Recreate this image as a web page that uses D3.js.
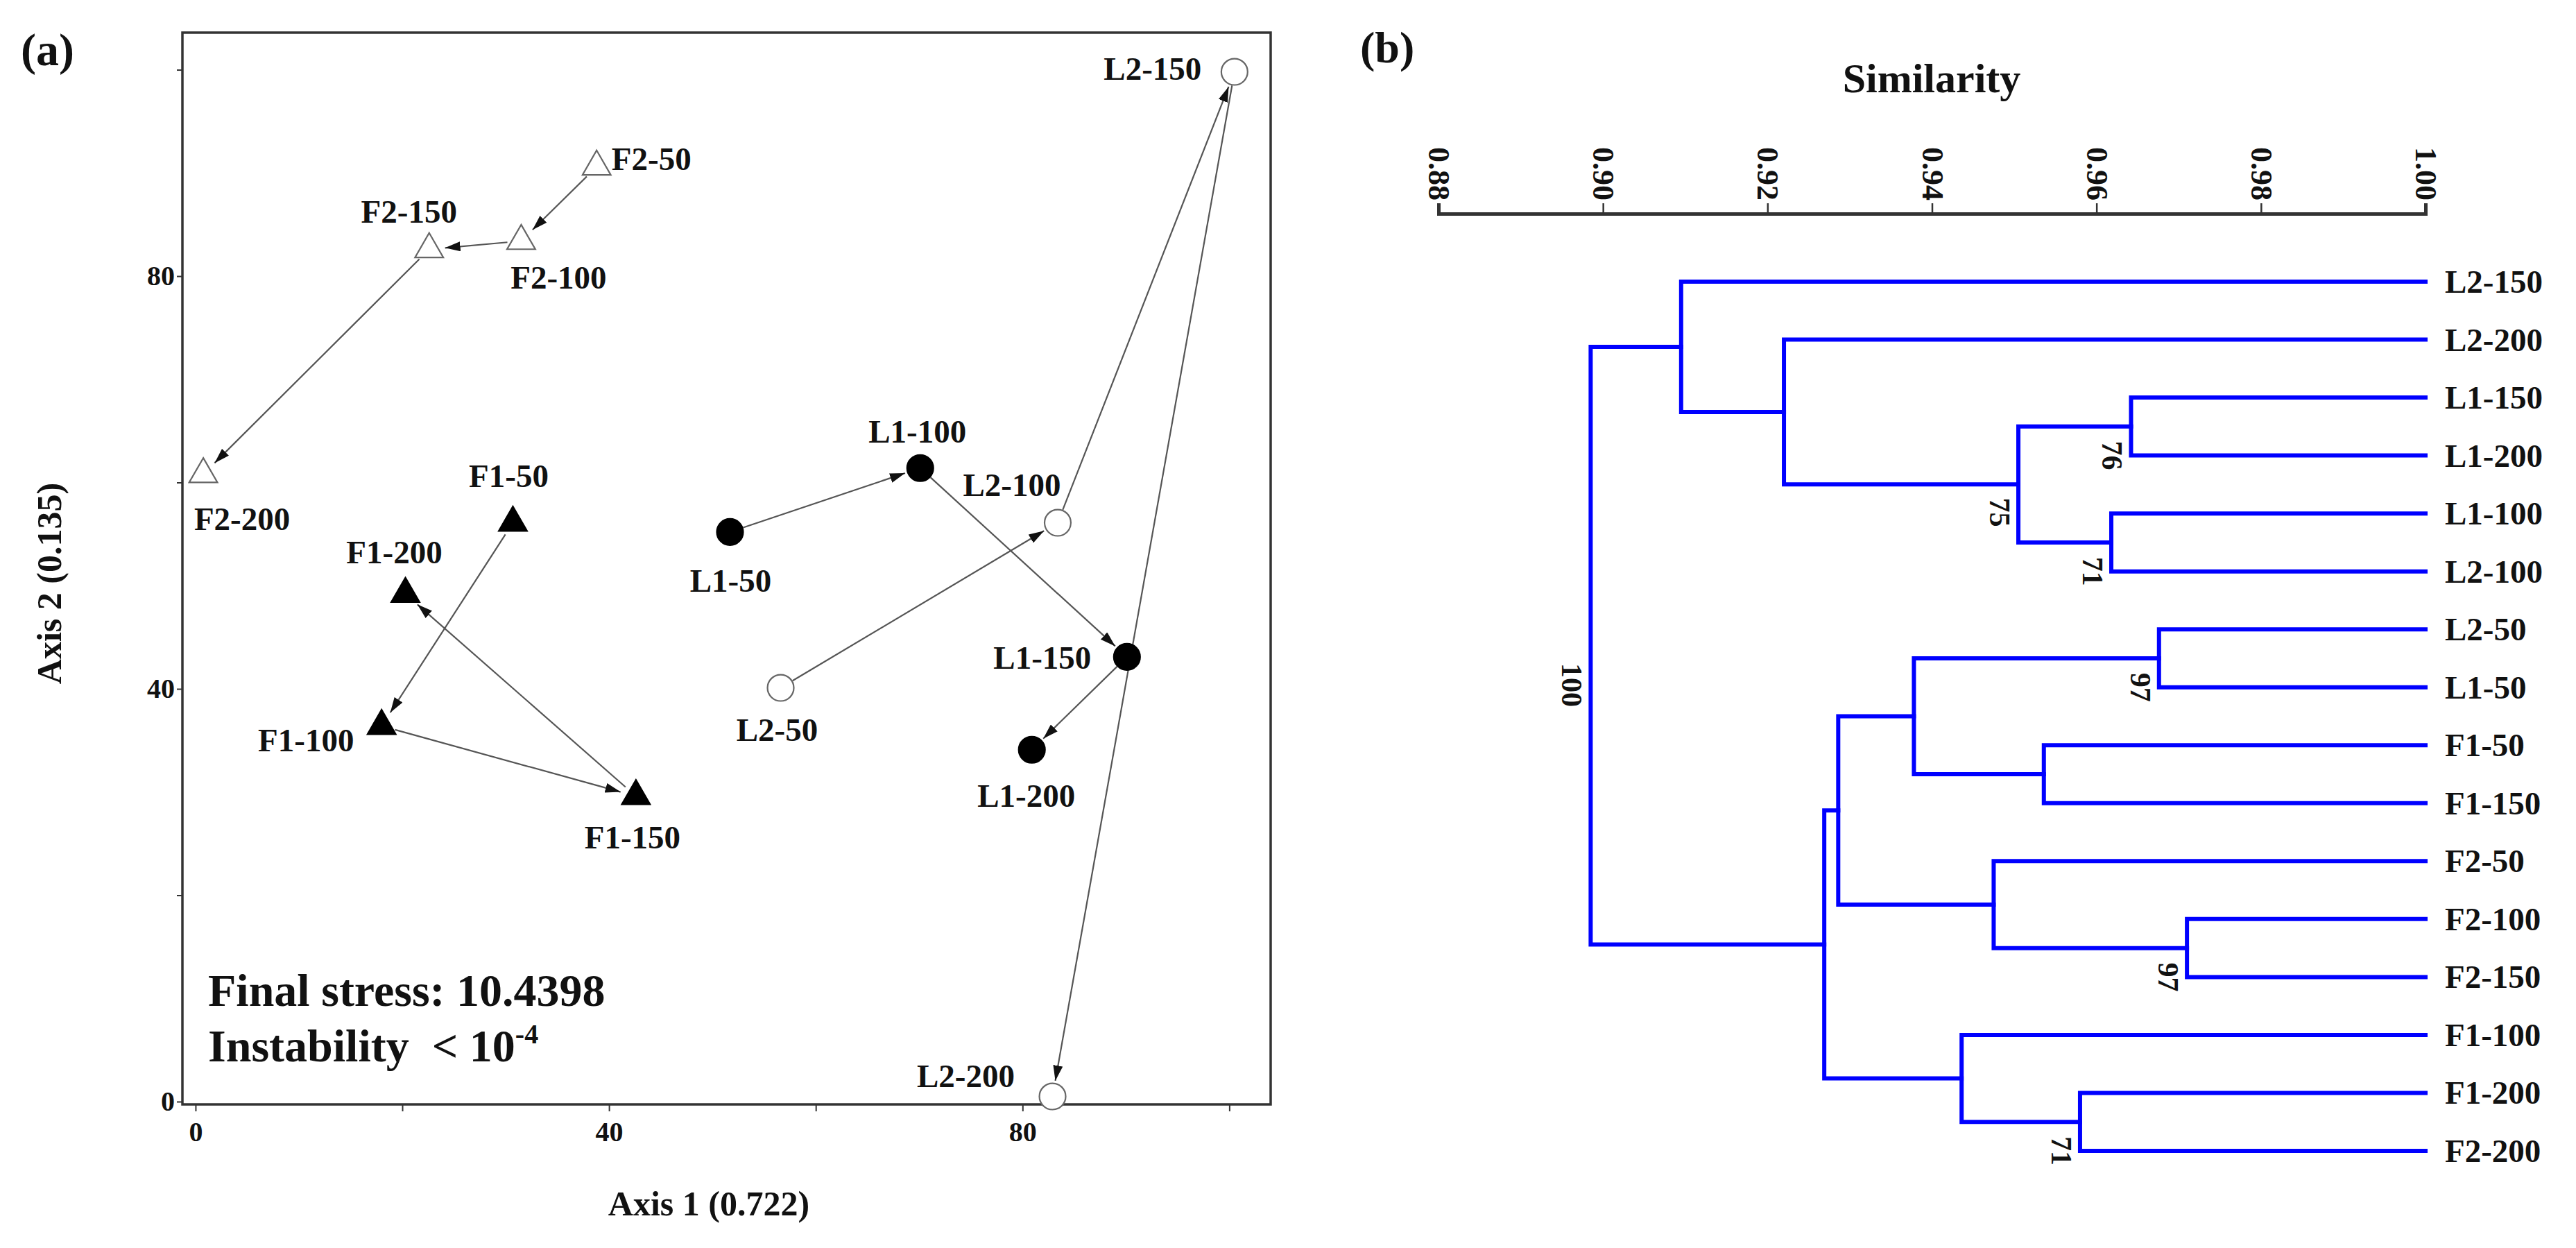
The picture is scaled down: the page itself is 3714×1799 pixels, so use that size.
<!DOCTYPE html>
<html><head><meta charset="utf-8">
<script src="https://cdn.jsdelivr.net/npm/d3@7"></script>
<style>
body{margin:0;background:#fff;}
text{font-family:"Liberation Serif","Times New Roman",serif;font-weight:bold;fill:#111;}
</style>
</head><body>
<svg id="c" width="3714" height="1799"></svg>
<script>
// ================= DATA =================
// (a) NMDS ordination
const sampleNames  = ["F1-50","F1-100","F1-150","F1-200","F2-50","F2-100","F2-150","F2-200","L1-50","L1-100","L1-150","L1-200","L2-50","L2-100","L2-150","L2-200"];
const axis1Scores  = [30.7, 18.0, 42.6, 20.3, 38.8, 31.5, 22.6, 0.75, 51.7, 70.1, 90.1, 80.9, 56.6, 83.4, 100.5, 82.9];
const axis2Scores  = [56.1, 36.4, 29.6, 49.2, 90.6, 83.4, 82.6, 60.8, 55.2, 61.4, 43.1, 34.1, 40.1, 56.1, 99.8, 0.5];
const sampleGroups = ["F1","F1","F1","F1","F2","F2","F2","F2","L1","L1","L1","L1","L2","L2","L2","L2"];
const successionPaths = [
  ["F1-50","F1-100","F1-150","F1-200"],
  ["F2-50","F2-100","F2-150","F2-200"],
  ["L1-50","L1-100","L1-150","L1-200"],
  ["L2-50","L2-100","L2-150","L2-200"]
];
const xTickValues = [0,20,40,60,80,100];
const xTickLabels = ["0","","40","","80",""];
const yTickValues = [0,20,40,60,80,100];
const yTickLabels = ["0","","40","","80",""];
const axis1Title = "Axis 1 (0.722)";
const axis2Title = "Axis 2 (0.135)";
const stressText = "Final stress: 10.4398";
const instabilityText = "Instability\u00a0\u00a0< 10";
const instabilityExp = "-4";

// (b) UPGMA dendrogram
const leafOrder = ["L2-150","L2-200","L1-150","L1-200","L1-100","L2-100","L2-50","L1-50","F1-50","F1-150","F2-50","F2-100","F2-150","F1-100","F1-200","F2-200"];
const mergeIds  = ["F","G","E","D","C","I","J","H","L","K","A","N","M","B","root"];
const mergeA    = ["L1-150","L1-100","F","L2-200","L2-150","L2-50","F1-50","I","F2-100","F2-50","H","F1-200","F1-100","A","C"];
const mergeB    = ["L1-200","L2-100","G","E","D","L1-50","F1-150","J","F2-150","L","K","F2-200","N","M","B"];
const mergeSimilarity = [0.9642,0.9618,0.9505,0.922,0.9095,0.9676,0.9536,0.9378,0.971,0.9475,0.9286,0.958,0.9436,0.9269,0.8985];
const bootstrapValues = [76,71,75,null,null,97,null,null,97,null,null,71,null,null,100];
const simTickValues = [0.88,0.90,0.92,0.94,0.96,0.98,1.00];
const simTitle = "Similarity";

// ================= LAYOUT / STYLE =================
const groupStyle = {
  F1:{shape:d3.symbolTriangle, fill:"#000", stroke:"#000"},
  F2:{shape:d3.symbolTriangle, fill:"#fff", stroke:"#666"},
  L1:{shape:d3.symbolCircle,   fill:"#000", stroke:"#000"},
  L2:{shape:d3.symbolCircle,   fill:"#fff", stroke:"#666"}
};
const labelOffset = {
  "F2-50":[79,-11],"F2-100":[54,53],"F2-150":[-29,-54],"F2-200":[56,64],
  "F1-50":[-6,-68],"F1-200":[-16,-60],"F1-100":[-109,20],"F1-150":[-5,59],
  "L1-100":[-4,-53],"L2-100":[-66,-55],"L1-50":[1,70],"L1-150":[-122,1],
  "L2-50":[-5,60],"L1-200":[-8,66],"L2-150":[-118,-5],"L2-200":[-125,-30]
};
const bootstrapAnchor = {F:1,G:1,E:0.74,I:1,L:1,N:1,root:0.566};

const svg = d3.select("#c");
const defs = svg.append("defs");
defs.append("marker").attr("id","ah")
  .attr("viewBox","0 0 22 14").attr("refX",22).attr("refY",7)
  .attr("markerWidth",22).attr("markerHeight",14)
  .attr("markerUnits","userSpaceOnUse").attr("orient","auto")
  .append("path").attr("d","M0,0L22,7L0,14Z").attr("fill","#111");

// ================= PANEL (a) =================
const x = d3.scaleLinear().domain([-1.27,104.0]).range([263,1832]);
const y = d3.scaleLinear().domain([-0.27,103.6]).range([1592,47]);
const gA = svg.append("g");

gA.append("text").attr("x",30).attr("y",94).attr("font-size",66).text("(a)");

// frame
gA.append("rect").attr("x",x.range()[0]).attr("y",y.range()[1])
  .attr("width",x.range()[1]-x.range()[0]).attr("height",y.range()[0]-y.range()[1])
  .attr("fill","none").attr("stroke","#333").attr("stroke-width",3.5);

// axes
const xAx = gA.append("g").attr("transform",`translate(0,${y.range()[0]})`)
  .call(d3.axisBottom(x).tickValues(xTickValues).tickSize(10)
    .tickFormat((d,i)=>xTickLabels[i]));
const yAx = gA.append("g").attr("transform",`translate(${x.range()[0]},0)`)
  .call(d3.axisLeft(y).tickValues(yTickValues).tickSize(8)
    .tickFormat((d,i)=>yTickLabels[i]));
[xAx,yAx].forEach(a=>{
  a.select(".domain").remove();
  a.selectAll(".tick line").attr("stroke","#333").attr("stroke-width",2);
  a.selectAll(".tick text").attr("font-size",40).attr("font-family","Liberation Serif").attr("font-weight","bold").attr("fill","#111");
});
xAx.selectAll(".tick text").attr("dy","1.0em");

gA.append("text").attr("x",1022).attr("y",1752).attr("text-anchor","middle").attr("font-size",50).text(axis1Title);
gA.append("text").attr("transform","translate(88,841) rotate(-90)").attr("text-anchor","middle").attr("font-size",50).text(axis2Title);

// points
const pts = {};
sampleNames.forEach((n,i)=>{ pts[n] = {x:x(axis1Scores[i]), y:y(axis2Scores[i]), g:sampleGroups[i]}; });

// arrows
const arrows = [];
successionPaths.forEach(p=>{ for(let i=0;i<p.length-1;i++) arrows.push([p[i],p[i+1]]); });
gA.append("g").selectAll("line").data(arrows).join("line")
  .each(function(d){
    const a=pts[d[0]], b=pts[d[1]];
    const dx=b.x-a.x, dy=b.y-a.y, L=Math.hypot(dx,dy), ux=dx/L, uy=dy/L;
    d3.select(this).attr("x1",a.x+ux*20).attr("y1",a.y+uy*20)
      .attr("x2",b.x-ux*23).attr("y2",b.y-uy*23);
  })
  .attr("stroke","#555").attr("stroke-width",2.2).attr("marker-end","url(#ah)");

// markers
gA.append("g").selectAll("path").data(sampleNames).join("path")
  .attr("transform",d=>`translate(${pts[d].x},${pts[d].y})`)
  .attr("d",d=>{
    const s=groupStyle[pts[d].g];
    return d3.symbol().type(s.shape).size(s.shape===d3.symbolCircle?1130:720)();
  })
  .attr("fill",d=>groupStyle[pts[d].g].fill)
  .attr("stroke",d=>groupStyle[pts[d].g].stroke)
  .attr("stroke-width",2.2);

// labels
gA.append("g").selectAll("text").data(sampleNames).join("text")
  .attr("x",d=>pts[d].x+labelOffset[d][0]).attr("y",d=>pts[d].y+labelOffset[d][1])
  .attr("text-anchor","middle").attr("dominant-baseline","central")
  .attr("font-size",47).text(d=>d);

// stats text
gA.append("text").attr("x",300).attr("y",1450).attr("font-size",66).text(stressText);
const inst = gA.append("text").attr("x",300).attr("y",1530).attr("font-size",66);
inst.append("tspan").text(instabilityText);
inst.append("tspan").attr("dy",-26).attr("font-size",40).text(instabilityExp);

// ================= PANEL (b) =================
const gB = svg.append("g");
gB.append("text").attr("x",1961).attr("y",90).attr("font-size",64).text("(b)");
gB.append("text").attr("x",2785).attr("y",133).attr("text-anchor","middle").attr("font-size",60).text(simTitle);

const xs = d3.scaleLinear().domain([0.88,1.0]).range([2074,3497]);
const ly = d3.scalePoint().domain(leafOrder).range([406,1659]);

const sAx = gB.append("g").attr("transform","translate(0,308)")
  .call(d3.axisTop(xs).tickValues(simTickValues).tickSize(15).tickFormat(d3.format(".2f")));
sAx.select(".domain").attr("stroke","#333").attr("stroke-width",5);
sAx.selectAll(".tick line").attr("stroke","#333").attr("stroke-width",2.5);
sAx.selectAll(".tick text")
  .attr("y",null).attr("dy",null)
  .attr("transform","translate(0,-19) rotate(90)")
  .attr("text-anchor","end").attr("dominant-baseline","central")
  .attr("font-size",44).attr("font-family","Liberation Serif").attr("font-weight","bold").attr("fill","#111");

const pos = {};
leafOrder.forEach(n=>{ pos[n] = {x:xs(1.0), y:ly(n)}; });
const tree = gB.append("g");
mergeIds.forEach((id,i)=>{
  const a=pos[mergeA[i]], b=pos[mergeB[i]], nx=xs(mergeSimilarity[i]);
  pos[id] = {x:nx, y:(a.y+b.y)/2};
  tree.append("path")
    .attr("d",`M${a.x},${a.y}H${nx}V${b.y}H${b.x}`)
    .attr("fill","none").attr("stroke","#0000ff").attr("stroke-width",6)
    .attr("stroke-linejoin","miter").attr("stroke-linecap","square");
  if(bootstrapValues[i]!=null){
    const by = a.y + bootstrapAnchor[id]*(b.y-a.y);
    gB.append("text").attr("transform",`translate(${nx-27},${by}) rotate(90)`)
      .attr("text-anchor","middle").attr("dominant-baseline","central")
      .attr("font-size",42).text(bootstrapValues[i]);
  }
});

gB.append("g").selectAll("text").data(leafOrder).join("text")
  .attr("x",3525).attr("y",d=>ly(d)).attr("dominant-baseline","central")
  .attr("font-size",47).text(d=>d);
</script>
</body></html>
